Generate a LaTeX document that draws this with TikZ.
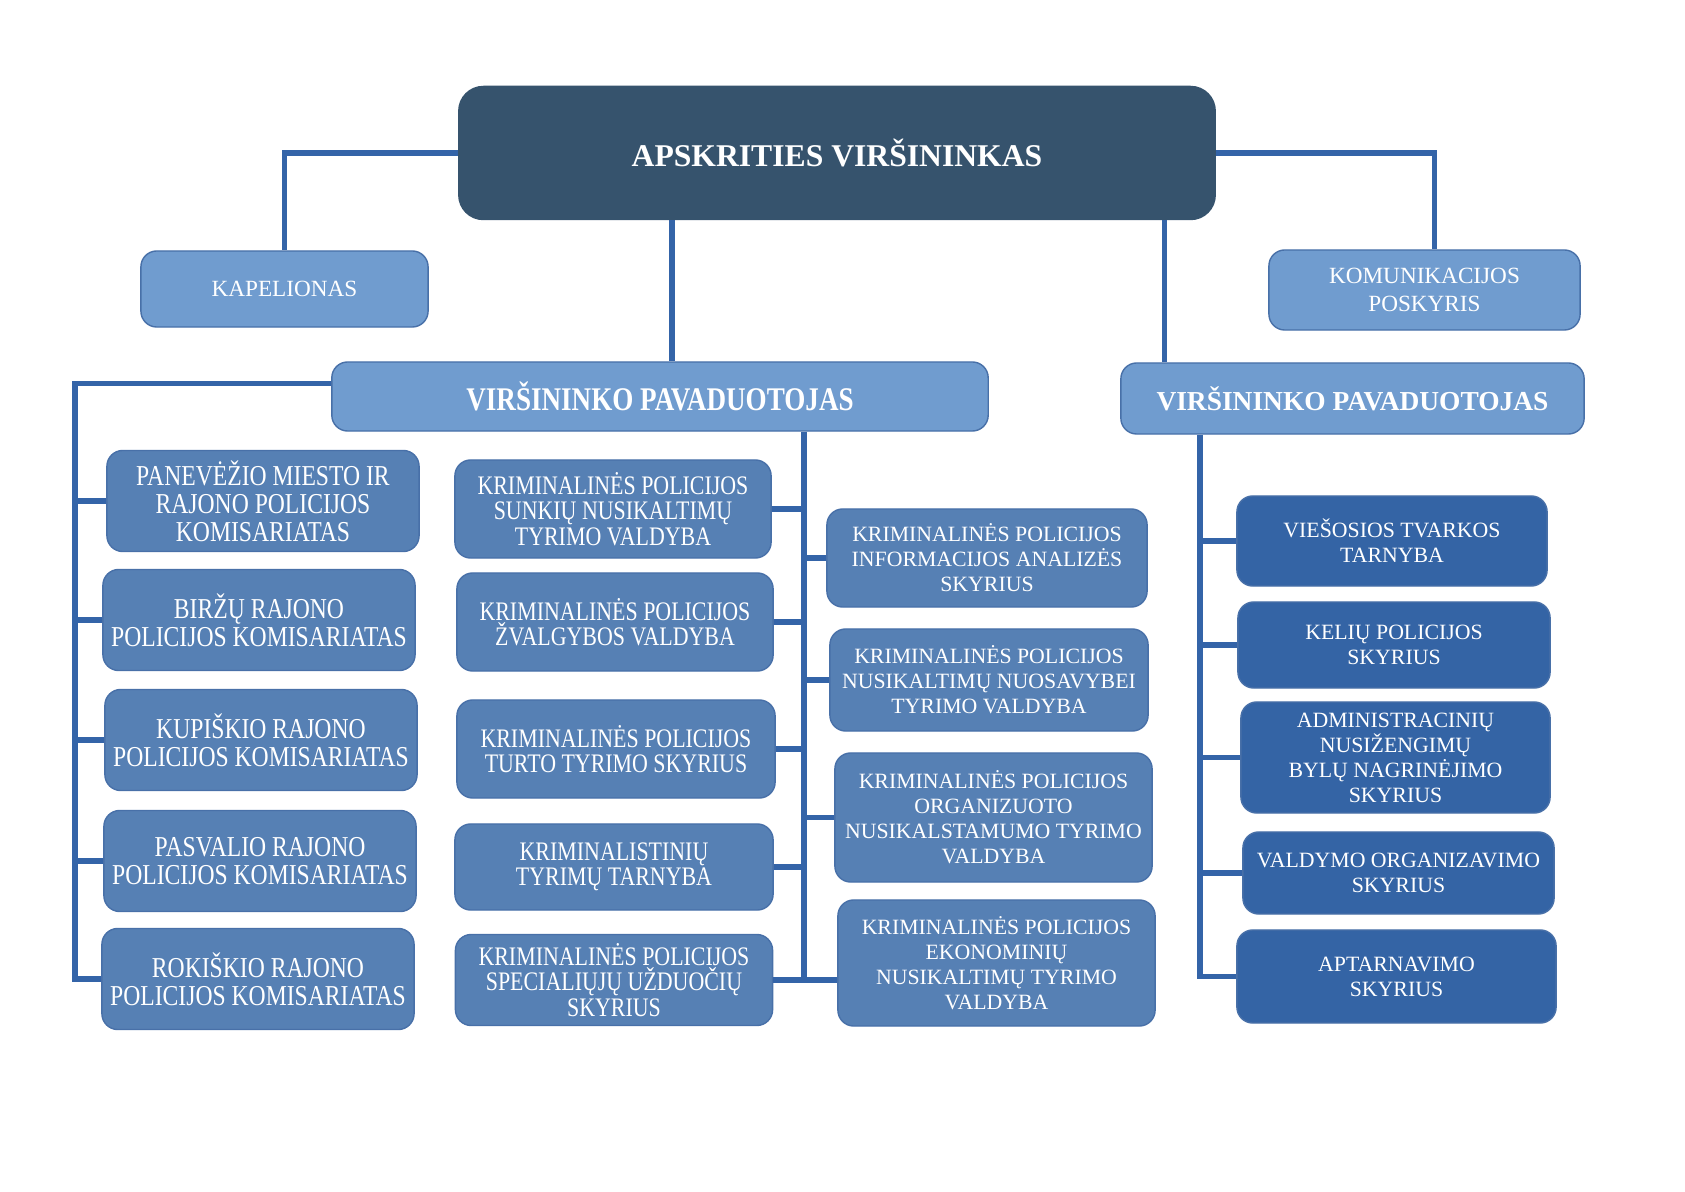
\documentclass[tikz,border=0pt]{standalone}
\usepackage{fontspec}
\setmainfont{Liberation Serif}
\newfontfamily\narrowfont[FakeStretch=0.82]{Liberation Serif}
\usepackage{tikz}
\usetikzlibrary{positioning, calc}
\usepackage{xcolor}
\definecolor{chiefslate}{RGB}{54,83,109}
\definecolor{paleblue}{RGB}{112,156,207}
\definecolor{midblue}{RGB}{86,128,180}
\definecolor{deepblue}{RGB}{52,100,165}
\definecolor{linkblue}{RGB}{52,100,168}
\definecolor{edgeblue}{RGB}{72,112,168}

\begin{document}
\begin{tikzpicture}[x=0.01cm, y=-0.01cm,
        unit/.style={rectangle, rounded corners=4.5pt, draw=edgeblue, line width=0.4pt,
                     text=white, align=center, inner sep=1pt},
        chiefbox/.style={unit, fill=chiefslate, draw=chiefslate, rounded corners=7pt,
                     font=\bfseries\fontsize{9}{11}\selectfont},
        palebox/.style={unit, fill=paleblue, font=\fontsize{6.6}{8}\selectfont},
        district/.style={unit, fill=midblue, minimum width=3.12cm, minimum height=1.01cm,
                     font=\narrowfont\fontsize{8.2}{8}\selectfont},
        crimbox/.style={unit, fill=midblue, font=\narrowfont\fontsize{7.6}{7.2}\selectfont},
        crimwide/.style={unit, fill=midblue, font=\fontsize{6.2}{7.1}\selectfont},
        orderbox/.style={unit, fill=deepblue, font=\fontsize{6.2}{7.1}\selectfont},
        link/.style={line width=1.5pt, linkblue}
    ]
        \useasboundingbox (0,0) rectangle (1685,1192);

        % top level
        \node[chiefbox, minimum width=7.56cm, minimum height=1.33cm] (chief) at (837,153) {APSKRITIES VIRŠININKAS};
        \node[palebox, minimum width=2.87cm, minimum height=0.76cm] (kapelionas) at (284.5,289) {KAPELIONAS};
        \node[palebox, minimum width=3.11cm, minimum height=0.80cm] (komunikacijos) at (1424.5,290) {KOMUNIKACIJOS\\POSKYRIS};
        \node[palebox, minimum width=6.56cm, minimum height=0.69cm,
              font=\narrowfont\bfseries\fontsize{9.4}{11}\selectfont] (vpl) at (660,396.5) {VIRŠININKO PAVADUOTOJAS};
        \node[palebox, minimum width=4.63cm, minimum height=0.71cm,
              font=\bfseries\fontsize{7.8}{9}\selectfont] (vpr) at (1352.5,398.5) {VIRŠININKO PAVADUOTOJAS};

        % komisariatai
        \node[district] (d1) at (263,501) {PANEVĖŽIO MIESTO IR\\RAJONO POLICIJOS\\KOMISARIATAS};
        \node[district] (d2) at (259,620) {BIRŽŲ RAJONO\\POLICIJOS KOMISARIATAS};
        \node[district] (d3) at (261,740) {KUPIŠKIO RAJONO\\POLICIJOS KOMISARIATAS};
        \node[district] (d4) at (260,861) {PASVALIO RAJONO\\POLICIJOS KOMISARIATAS};
        \node[district] (d5) at (258,979) {ROKIŠKIO RAJONO\\POLICIJOS KOMISARIATAS};

        % kriminaline policija
        \node[crimbox, minimum width=3.16cm, minimum height=0.98cm] (c1) at (613,509) {KRIMINALINĖS POLICIJOS\\SUNKIŲ NUSIKALTIMŲ\\TYRIMO VALDYBA};
        \node[crimbox, minimum width=3.16cm, minimum height=0.98cm] (c2) at (615,622) {KRIMINALINĖS POLICIJOS\\ŽVALGYBOS VALDYBA};
        \node[crimbox, minimum width=3.18cm, minimum height=0.98cm] (c3) at (616,749) {KRIMINALINĖS POLICIJOS\\TURTO TYRIMO SKYRIUS};
        \node[crimbox, minimum width=3.18cm, minimum height=0.86cm] (c4) at (614,867) {KRIMINALISTINIŲ\\TYRIMŲ TARNYBA};
        \node[crimbox, minimum width=3.17cm, minimum height=0.91cm] (c5) at (614,980) {KRIMINALINĖS POLICIJOS\\SPECIALIŲJŲ UŽDUOČIŲ\\SKYRIUS};

        \node[crimwide, minimum width=3.20cm, minimum height=0.98cm] (r1) at (987,558) {KRIMINALINĖS POLICIJOS\\INFORMACIJOS ANALIZĖS\\SKYRIUS};
        \node[crimwide, minimum width=3.18cm, minimum height=1.02cm] (r2) at (989,680) {KRIMINALINĖS POLICIJOS\\NUSIKALTIMŲ NUOSAVYBEI\\TYRIMO VALDYBA};
        \node[crimwide, minimum width=3.17cm, minimum height=1.29cm] (r3) at (993.5,817.5) {KRIMINALINĖS POLICIJOS\\ORGANIZUOTO\\NUSIKALSTAMUMO TYRIMO\\VALDYBA};
        \node[crimwide, minimum width=3.17cm, minimum height=1.26cm] (r4) at (996.5,963) {KRIMINALINĖS POLICIJOS\\EKONOMINIŲ\\NUSIKALTIMŲ TYRIMO\\VALDYBA};

        % viesoji policija
        \node[orderbox, minimum width=3.10cm, minimum height=0.90cm] (s1) at (1392,541) {VIEŠOSIOS TVARKOS\\TARNYBA};
        \node[orderbox, minimum width=3.12cm, minimum height=0.86cm] (s2) at (1394,645) {KELIŲ POLICIJOS\\SKYRIUS};
        \node[orderbox, minimum width=3.09cm, minimum height=1.11cm] (s3) at (1395.5,757.5) {ADMINISTRACINIŲ\\NUSIŽENGIMŲ\\BYLŲ NAGRINĖJIMO\\SKYRIUS};
        \node[orderbox, minimum width=3.11cm, minimum height=0.82cm] (s4) at (1398.5,873) {VALDYMO ORGANIZAVIMO\\SKYRIUS};
        \node[orderbox, minimum width=3.19cm, minimum height=0.93cm] (s5) at (1396.5,976.5) {APTARNAVIMO\\SKYRIUS};

        % connectors
        \coordinate (lbus) at (75,0);
        \coordinate (mbus) at (804,0);
        \coordinate (rbus) at (1200,0);

        \draw[link] (chief.west) -| (kapelionas.north);
        \draw[link] (chief.east) -| ([xshift=0.1cm]komunikacijos.north);
        \draw[link] ([xshift=0.12cm]vpl.north) -- ([xshift=0.12cm]vpl.north |- chief.south);
        \draw[link] ([xshift=-1.88cm]vpr.north) -- ([xshift=-1.88cm]vpr.north |- chief.south);

        \draw[link] ([yshift=0.13cm]vpl.west) -| (lbus |- d5.west) -- (d5.west);
        \foreach \d in {d1,d2,d3,d4}
            \draw[link] (\d.west) -- (\d.west -| lbus);

        \draw[link] (vpl.south -| mbus) -- (mbus |- c5.east);
        \draw[link] (c5.east) -- (r4.west |- c5.east);
        \foreach \c in {c1,c2,c3,c4}
            \draw[link] (\c.east) -- (\c.east -| mbus);
        \foreach \r in {r1,r2,r3}
            \draw[link] (\r.west) -- (\r.west -| mbus);

        \draw[link] (vpr.south -| rbus) |- (s5.west);
        \foreach \s in {s1,s2,s3,s4}
            \draw[link] (\s.west) -- (\s.west -| rbus);
    \end{tikzpicture}
\end{document}
